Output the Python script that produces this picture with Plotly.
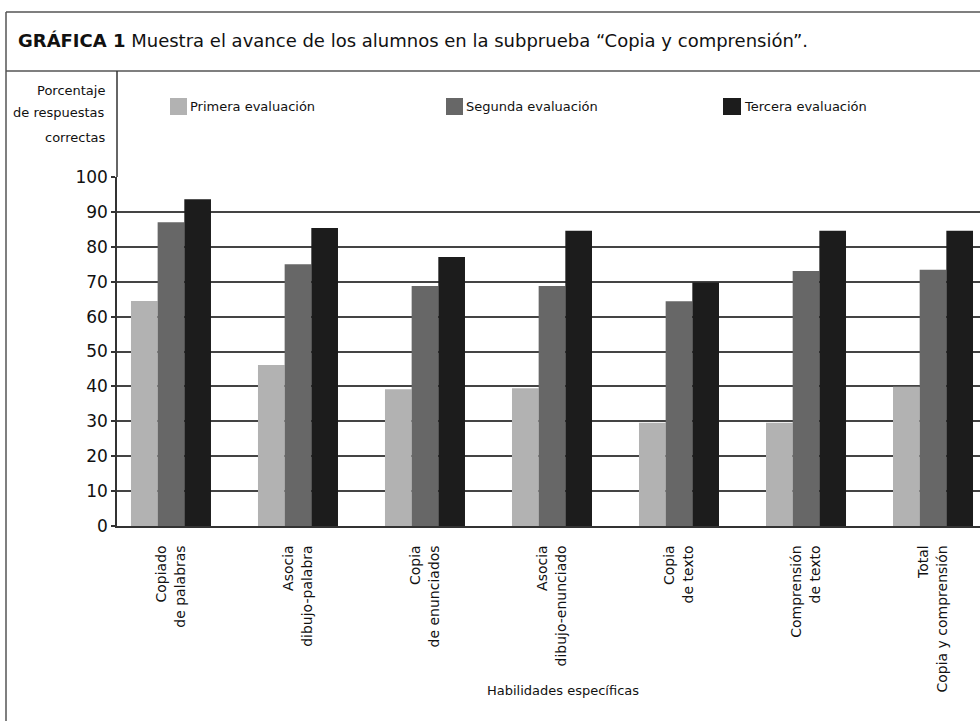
from __future__ import annotations

import plotly.graph_objects as go

CATEGORIES = [
    "Copiado<br>de palabras",
    "Asocia<br>dibujo-palabra",
    "Copia<br>de enunciados",
    "Asocia<br>dibujo-enunciado",
    "Copia<br>de texto",
    "Comprensión<br>de texto",
    "Total<br>Copia y comprensión",
]
SERIES = ["Primera evaluación", "Segunda evaluación", "Tercera evaluación"]
PRIMERA = [64.5, 46.1, 39.2, 39.5, 29.6, 29.6, 39.9]
SEGUNDA = [87.0, 75.0, 68.8, 68.8, 64.4, 73.1, 73.4]
TERCERA = [93.6, 85.4, 77.1, 84.6, 69.8, 84.6, 84.6]
Y_TICKS = [0, 10, 20, 30, 40, 50, 60, 70, 80, 90, 100]

_COLORS = ["#B2B2B2", "#676767", "#1C1C1C"]
_FONT = "DejaVu Sans"

W, H = 980, 721
L, R, T, B = 117, 0, 177, 195


def px_x(x: float) -> float:
    return (x - L) / (W - L - R)


def px_y(y: float) -> float:
    return (H - B - y) / (H - T - B)


def build() -> go.Figure:
    fig = go.Figure()
    for name, vals, col in zip(SERIES, [PRIMERA, SEGUNDA, TERCERA], _COLORS):
        fig.add_trace(go.Bar(x=CATEGORIES, y=vals, name=name,
                             marker=dict(color=col, line_width=0)))

    line = dict(color="#555555", width=1.5)
    shapes = [
        dict(type="line", xref="paper", yref="paper",
             x0=px_x(6), x1=px_x(980), y0=px_y(12), y1=px_y(12), line=line),
        dict(type="line", xref="paper", yref="paper",
             x0=px_x(6), x1=px_x(6), y0=px_y(12), y1=px_y(721), line=line),
        dict(type="line", xref="paper", yref="paper",
             x0=px_x(6), x1=px_x(980), y0=px_y(71), y1=px_y(71), line=line),
        dict(type="line", xref="paper", yref="paper",
             x0=0, x1=0, y0=px_y(71), y1=1, line=dict(color="#333333", width=1.5)),
    ]
    annotations = [
        dict(text="<b>GRÁFICA 1</b> Muestra el avance de los alumnos en la subprueba "
                  "“Copia y comprensión”.",
             xref="paper", yref="paper", x=px_x(16), y=px_y(41),
             xanchor="left", yanchor="middle", showarrow=False,
             font=dict(family=_FONT, size=18, color="#111111")),
        dict(text="Habilidades específicas", xref="paper", yref="paper",
             x=px_x(563), y=px_y(690), xanchor="center", yanchor="middle",
             showarrow=False, font=dict(family=_FONT, size=13, color="#111111")),
    ]
    for txt, yy in zip(["Porcentaje", "de respuestas", "correctas"], [90, 113, 137]):
        annotations.append(dict(text=txt, xref="paper", yref="paper",
                                x=px_x(107), y=px_y(yy), xanchor="right",
                                yanchor="middle", showarrow=False,
                                font=dict(family=_FONT, size=13, color="#111111")))
    # hand-made legend: square + label
    for name, col, x0, x1 in zip(SERIES, _COLORS, [170, 446, 723], [187, 463, 741]):
        shapes.append(dict(type="rect", xref="paper", yref="paper",
                           x0=px_x(x0), x1=px_x(x1), y0=px_y(98), y1=px_y(115),
                           fillcolor=col, line_width=0))
        annotations.append(dict(text=name, xref="paper", yref="paper",
                                x=px_x(x1 + 1), y=px_y(107), xanchor="left",
                                yanchor="middle", showarrow=False,
                                font=dict(family=_FONT, size=13, color="#111111")))

    fig.update_layout(
        width=W, height=H,
        margin=dict(l=L, r=R, t=T, b=B, pad=0),
        paper_bgcolor="white", plot_bgcolor="white",
        barmode="group", bargap=0.37, bargroupgap=0,
        showlegend=False,
        font=dict(family=_FONT, color="#111111"),
        shapes=shapes, annotations=annotations,
        xaxis=dict(range=[-0.425, 6.37], tickangle=-90, showgrid=False,
                   showline=True, linecolor="#333333", linewidth=1.5,
                   ticks="", ticklabelstandoff=12,
                   tickfont=dict(family=_FONT, size=14, color="#111111")),
        yaxis=dict(range=[0, 100], tickvals=Y_TICKS, showgrid=True,
                   gridcolor="#444444", gridwidth=1.5, zeroline=False,
                   showline=True, linecolor="#333333", linewidth=1.5,
                   ticks="outside", ticklen=4,
                   tickcolor="#333333", tickwidth=1.5,
                   tickfont=dict(family=_FONT, size=17, color="#111111")),
    )
    return fig


fig = build()
# drop the browser's default body margin so the figure sits at the page corner
fig.write_html("out.html", config={"displayModeBar": False},
               post_script="document.body.style.margin='0';")
